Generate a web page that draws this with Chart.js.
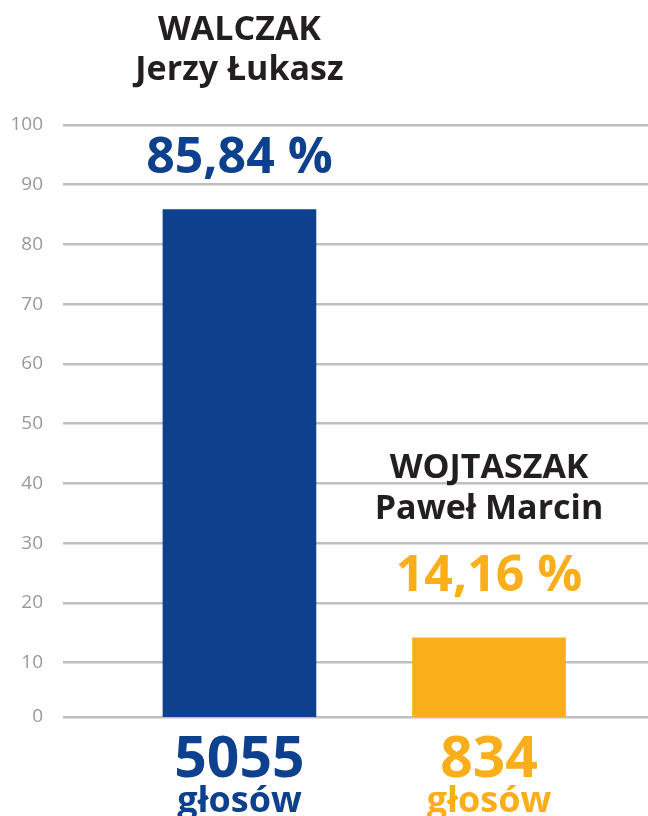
<!DOCTYPE html>
<html>
<head>
<meta charset="utf-8">
<script src="https://cdn.jsdelivr.net/npm/chart.js@4"></script>
<style>
  html, body { margin: 0; padding: 0; background: #ffffff; }
  canvas { display: block; }
</style>
</head>
<body>
<canvas id="wykres" width="648" height="816"></canvas>
<script>
// dane z wyników
const nazwiska = ["WALCZAK", "WOJTASZAK"];
const imiona = ["Jerzy Łukasz", "Paweł Marcin"];
const procenty = [85.84, 14.16];
const glosy = [5055, 834];
const kolory = ["#0e418d", "#f9ae1a"];
const podzialkaY = [0, 10, 20, 30, 40, 50, 60, 70, 80, 90, 100];

const FONT = "'Open Sans', 'DejaVu Sans', sans-serif";

const etykiety = {
  id: "etykiety",
  afterDatasetsDraw(chart) {
    const ctx = chart.ctx;
    const meta = chart.getDatasetMeta(0);
    const dol = chart.chartArea.bottom;
    // odstęp linii bazowych od wierzchołka słupka: nazwisko, imiona, procent
    const odstepy = [[170, 130, 37], [160, 119, 47]];
    ctx.save();
    ctx.textAlign = "center";
    ctx.textBaseline = "alphabetic";
    meta.data.forEach((bar, i) => {
      const x = bar.x;
      const top = bar.y;
      const o = odstepy[i];
      ctx.fillStyle = "#231f20";
      ctx.font = "bold 34px " + FONT;
      ctx.fillText(nazwiska[i], x, top - o[0]);
      ctx.fillText(imiona[i], x, top - o[1]);

      ctx.fillStyle = kolory[i];
      ctx.font = "bold 50px " + FONT;
      ctx.fillText(procenty[i].toFixed(2).replace(".", ",") + " %", x, top - o[2]);

      ctx.font = "bold 57px " + FONT;
      ctx.fillText(String(glosy[i]), x, dol + 60);
      ctx.font = "bold 36px " + FONT;
      ctx.fillText("głosów", x, dol + 95);
    });
    ctx.restore();
  }
};

new Chart(document.getElementById("wykres").getContext("2d"), {
  type: "bar",
  data: {
    datasets: [{
      data: procenty.map((p, i) => ({ x: i + 1, y: p })),
      backgroundColor: kolory,
      borderWidth: 0,
      barThickness: 153
    }]
  },
  options: {
    responsive: false,
    animation: false,
    devicePixelRatio: 1,
    layout: { padding: { top: 125, bottom: 99, left: 0, right: 0 } },
    plugins: { legend: { display: false }, tooltip: { enabled: false } },
    scales: {
      x: {
        type: "linear",
        offset: false,
        min: 0.293,
        max: 2.637,
        display: false
      },
      y: {
        min: 0.9,
        max: 100,
        border: { display: false },
        grid: { color: "#bfbfc3", lineWidth: 2.5, drawTicks: false },
        afterBuildTicks(scale) {
          scale.ticks = podzialkaY.map(v => ({ value: Math.max(v, scale.min) }));
        },
        afterFit(scale) { scale.width = 63; },
        ticks: {
          padding: 20,
          color: "#999999",
          font: { family: FONT, size: 19 },
          callback: v => String(Math.round(v / 10) * 10)
        }
      }
    }
  },
  plugins: [etykiety]
});
</script>
</body>
</html>
